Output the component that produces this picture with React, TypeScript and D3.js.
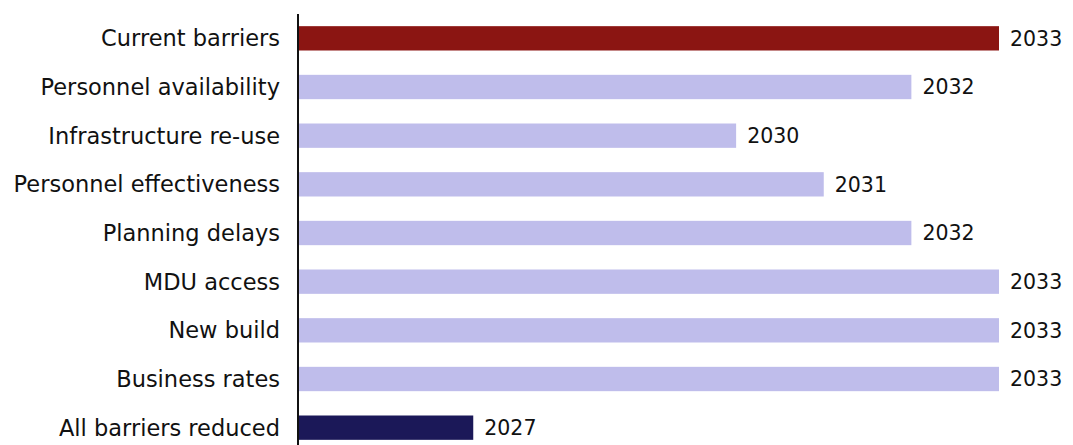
import * as d3 from "d3";
import React from "react";

const categories = [
  "Current barriers",
  "Personnel availability",
  "Infrastructure re-use",
  "Personnel effectiveness",
  "Planning delays",
  "MDU access",
  "New build",
  "Business rates",
  "All barriers reduced",
];
const years = [2033, 2032, 2030, 2031, 2032, 2033, 2033, 2033, 2027];
const colors = [
  "#8B1512",
  "#BFBDEB",
  "#BFBDEB",
  "#BFBDEB",
  "#BFBDEB",
  "#BFBDEB",
  "#BFBDEB",
  "#BFBDEB",
  "#1B1858",
];

const width = 1073;
const height = 445;
const axisX = 298;

export default function App() {
  const x = d3.scaleLinear().domain([2025, 2033]).range([axisX, 999]);
  const y = d3
    .scaleBand()
    .domain(categories)
    .range([14, 452])
    .paddingInner(0.5)
    .paddingOuter(0.25);

  const font = "'DejaVu Sans', Verdana, sans-serif";

  return (
    <svg
      width={width}
      height={height}
      style={{ position: "fixed", left: 0, top: 0, background: "#fff" }}
    >
      {categories.map((c, i) => {
        const y0 = y(c) as number;
        const cy = y0 + y.bandwidth() / 2;
        return (
          <g key={c}>
            <rect
              x={axisX + 1}
              y={y0}
              width={x(years[i]) - axisX - 1}
              height={y.bandwidth()}
              fill={colors[i]}
            />
            <text
              x={280}
              y={cy}
              dy="0.36em"
              textAnchor="end"
              fontFamily={font}
              fontSize={22.5}
              fill="#111"
            >
              {c}
            </text>
            <text
              x={x(years[i]) + 11}
              y={cy}
              dy="0.36em"
              fontFamily={font}
              fontSize={20.5}
              fill="#111"
            >
              {years[i]}
            </text>
          </g>
        );
      })}
      <line x1={axisX} x2={axisX} y1={14} y2={height} stroke="#111" strokeWidth={2} />
    </svg>
  );
}
